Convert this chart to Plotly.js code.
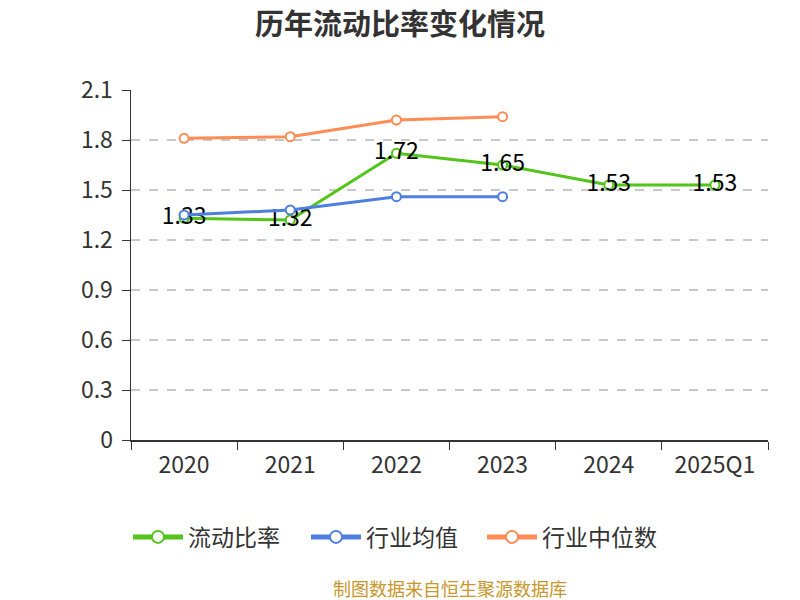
<!DOCTYPE html>
<html><head><meta charset="utf-8">
<script src="https://cdn.plot.ly/plotly-3.0.1.min.js"></script>
<style>body{margin:0}#c{width:800px;height:600px}</style>
</head><body><div id="c"></div>
<script>
const categories = ['2020','2021','2022','2023','2024','2025Q1'];
const currentRatio = [1.33, 1.32, 1.72, 1.65, 1.53, 1.53];
const industryMean = [1.35, 1.38, 1.46, 1.46];
const industryMedian = [1.81, 1.82, 1.92, 1.94];
const yTicks = [0, 0.3, 0.6, 0.9, 1.2, 1.5, 1.8, 2.1];
const yTickLabels = ['0','0.3','0.6','0.9','1.2','1.5','1.8','2.1'];

const FONT = '"Noto Sans CJK SC", "Noto Sans", sans-serif';
function mk(color){return {symbol:'circle', size:9, color:'#ffffff', line:{color:color, width:2}};}
const traces = [
  {x:categories, y:currentRatio, name:'流动比率', type:'scatter', mode:'lines+markers+text', legend:'legend',
   line:{color:'#52c41a', width:3}, marker:mk('#52c41a'),
   text:currentRatio.map(v=>v.toFixed(2)), textposition:'middle center',
   textfont:{size:23, color:'#000', family:FONT}},
  {x:categories.slice(0,4), y:industryMean, name:'行业均值', type:'scatter', mode:'lines+markers', legend:'legend2',
   line:{color:'#4e7fe0', width:3}, marker:mk('#4e7fe0')},
  {x:categories.slice(0,4), y:industryMedian, name:'行业中位数', type:'scatter', mode:'lines+markers', legend:'legend3',
   line:{color:'#ff8c55', width:3}, marker:mk('#ff8c55')}
];
function lg(px){return {orientation:'h', x:(px-131)/637, xanchor:'left', y:-0.277, yanchor:'middle',
  font:{size:23, color:'#333'}, itemsizing:'constant', itemwidth:50, bgcolor:'rgba(0,0,0,0)'};}
const layout = {
  width:800, height:600,
  margin:{l:131, r:32, t:90, b:160},
  paper_bgcolor:'#fff', plot_bgcolor:'#fff',
  font:{family:FONT, color:'#333'},
  title:{text:'<b>历年流动比率变化情况</b>', x:0.5, xanchor:'center', y:0.958, yanchor:'middle', font:{size:29, color:'#333', family:FONT}},
  showlegend:true,
  legend:lg(128), legend2:lg(306), legend3:lg(482),
  xaxis:{type:'category', range:[-0.5,5.5], tickson:'boundaries', ticks:'outside', ticklen:8, tickcolor:'#333',
    showline:true, linecolor:'#333', linewidth:1.5, showgrid:false, tickfont:{size:23, color:'#333'}, ticklabelstandoff:4, fixedrange:true},
  yaxis:{range:[0,2.1], tickvals:yTicks, ticktext:yTickLabels, ticks:'outside', ticklen:8, tickcolor:'#333',
    showline:true, linecolor:'#333', linewidth:1.5, showgrid:true, gridcolor:'#c8c8c8', griddash:'dash', gridwidth:1.5,
    zeroline:false, tickfont:{size:23, color:'#333'}, ticklabelstandoff:4},
  annotations:[{text:'制图数据来自恒生聚源数据库', xref:'paper', yref:'paper', x:0.5, xanchor:'center', y:-0.423, yanchor:'middle',
    showarrow:false, font:{size:18, color:'#c8962a', family:FONT}}]
};
Plotly.newPlot('c', traces, layout, {displayModeBar:false, staticPlot:true});
</script></body></html>
